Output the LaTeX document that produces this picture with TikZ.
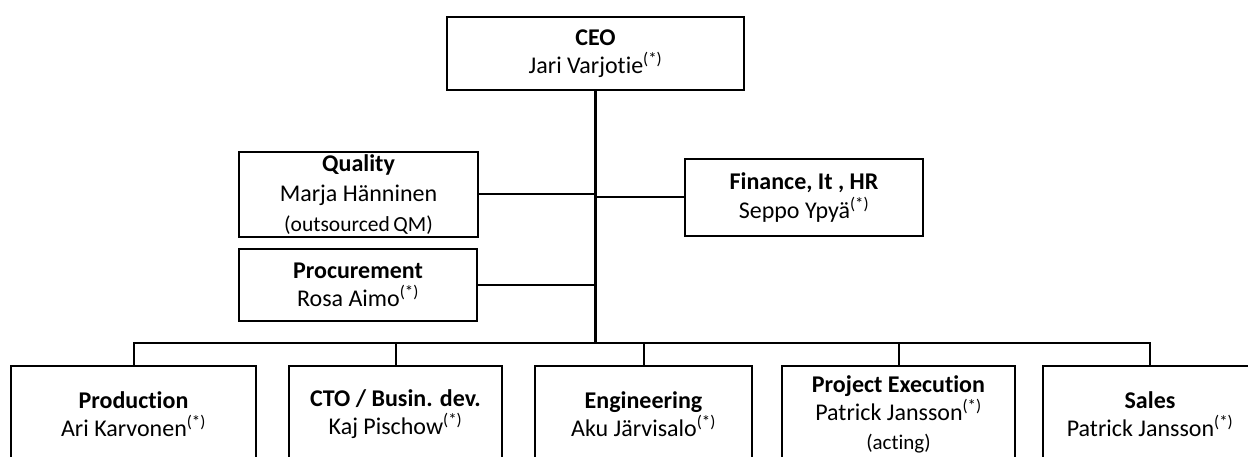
\documentclass[tikz,border=0pt]{standalone}
\usepackage{fontspec}
\setmainfont{Carlito}[Ligatures=NoCommon]

\begin{document}
\begin{tikzpicture}[x=1pt, y=-1pt,
    unit/.style={draw, line width=2.2pt, align=center, inner sep=0pt, font=\fontsize{24}{28.5}\selectfont},
    link/.style={line width=2pt},
    trunk/.style={line width=3pt}]
        \useasboundingbox (0,0) rectangle (1248,457);
        \clip (0,0) rectangle (1248,457);
        
        \node (ceo) [unit, minimum width=297pt, minimum height=73pt] at (595.5,53.5) {\textbf{CEO}\\Jari Varjotie\textsuperscript{(*)}};
        
        \node (quality) [unit, minimum width=239pt, minimum height=85pt, font=\fontsize{24}{30}\selectfont] at (358.5,194.5) {\textbf{Quality}\\Marja Hänninen\\{\fontsize{21.5}{30}\selectfont (outsourced\,QM)}};
        \node (procurement) [unit, minimum width=238pt, minimum height=72pt] at (358,285) {\textbf{Procurement}\\Rosa Aimo\textsuperscript{(*)}};
        \node (finance) [unit, minimum width=238pt, minimum height=77pt] at (804,197.5) {\textbf{Finance, It , HR}\\Seppo Ypyä\textsuperscript{(*)}};
        
        \coordinate (bus) at (595.5,343);
        
        \node (production) [unit, minimum width=245pt, minimum height=96pt] at (133.5,414) {\textbf{Production}\\Ari Karvonen\textsuperscript{(*)}};
        \node (cto) [unit, minimum width=213pt, minimum height=96pt] at (395.5,414) {\textbf{CTO / Busin. dev.}\\Kaj Pischow\textsuperscript{(*)}};
        \node (engineering) [unit, minimum width=217pt, minimum height=96pt] at (643.5,414) {\textbf{Engineering}\\Aku Järvisalo\textsuperscript{(*)}};
        \node (project) [unit, minimum width=233pt, minimum height=96pt] at (898.5,414) {\textbf{Project Execution}\\Patrick Jansson\textsuperscript{(*)}\\{\fontsize{21}{29}\selectfont (acting)}};
        \node (sales) [unit, minimum width=214pt, minimum height=96pt] at (1150,414) {\textbf{Sales}\\Patrick Jansson\textsuperscript{(*)}};
        
        \draw [trunk] (ceo.south) -- (bus);
        
        \draw [link] (quality.east) -- (quality.east -| bus);
        \draw [link] (procurement.east) -- (procurement.east -| bus);
        \draw [link] (finance.west) -- (finance.west -| bus);
        
        \draw [link] (production.north) |- (bus) -| (sales.north);
        \draw [link] (cto.north) -- (cto.north |- bus);
        \draw [link] (engineering.north) -- (engineering.north |- bus);
        \draw [link] (project.north) -- (project.north |- bus);
    \end{tikzpicture}
\end{document}
